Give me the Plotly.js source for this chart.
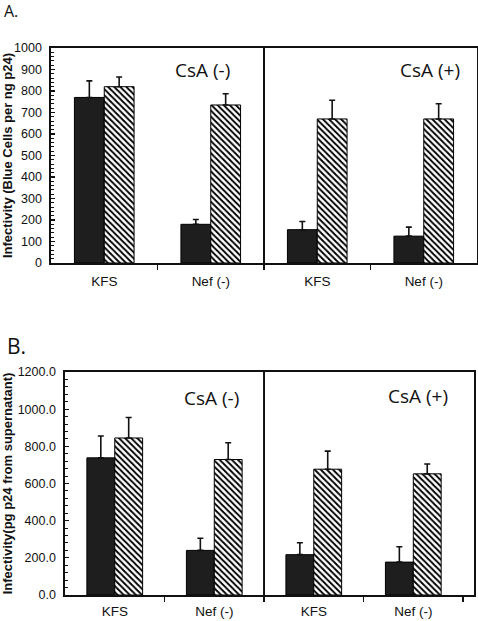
<!DOCTYPE html>
<html>
<head>
<meta charset="utf-8">
<script src="https://cdn.plot.ly/plotly-3.0.1.min.js"></script>
<style>html,body{margin:0;padding:0;background:#fff;}#chart{width:478px;height:621px;}</style>
</head>
<body>
<div id="chart"></div>
<script>
// ---- data ----
const categories = ['KFS', 'Nef (-)', 'KFS', 'Nef (-)'];
const conditions = ['CsA (-)', 'CsA (+)'];
const panelLabels = ['A.', 'B.'];

// Panel A: Infectivity (Blue Cells per ng p24)
const aSolid    = [770, 180, 155, 125];
const aSolidErr = [77, 22, 38, 42];
const aHatch    = [820, 735, 670, 670];
const aHatchErr = [45, 52, 87, 71];

// Panel B: Infectivity (pg p24 from supernatant)
const bSolid    = [738, 240, 217, 177];
const bSolidErr = [118, 65, 64, 83];
const bHatch    = [845, 729, 677, 652];
const bHatchErr = [110, 90, 97, 53];

const aTicks = [0, 100, 200, 300, 400, 500, 600, 700, 800, 900, 1000];
const bTicks = [0, 200, 400, 600, 800, 1000, 1200];

// ---- build ----
const xs = categories.map((c, i) => i);
const W = 478, H = 621;
const tickFont = {family: 'Liberation Sans, Arial, sans-serif', size: 12.5, color: '#111'};
const catFont = {family: 'Liberation Sans, Arial, sans-serif', size: 13.5, color: '#111'};
const titleFont = {family: 'Liberation Sans, Arial, sans-serif', size: 13, color: '#111', weight: 'bold'};
const condFont = {family: 'Open Sans, Noto Sans, sans-serif', size: 19, color: '#111'};

function solidTrace(y, err, xa, ya) {
  return {
    type: 'bar', x: xs, y: y, xaxis: xa, yaxis: ya,
    marker: {color: '#1e1e1e', line: {color: '#000', width: 1}},
    error_y: {type: 'data', array: err, arrayminus: [], symmetric: false, color: '#111', thickness: 1.6, width: 3},
    showlegend: false, hoverinfo: 'skip'
  };
}
function hatchTrace(y, err, xa, ya) {
  return {
    type: 'bar', x: xs, y: y, xaxis: xa, yaxis: ya,
    marker: {color: '#fff', line: {color: '#000', width: 1},
             pattern: {shape: '\\', fgcolor: '#000', bgcolor: '#fff', size: 4.3, solidity: 0.45}},
    error_y: {type: 'data', array: err, arrayminus: [], symmetric: false, color: '#111', thickness: 1.6, width: 3},
    showlegend: false, hoverinfo: 'skip'
  };
}

const data = [
  solidTrace(aSolid, aSolidErr, 'x', 'y'),
  hatchTrace(aHatch, aHatchErr, 'x', 'y'),
  solidTrace(bSolid, bSolidErr, 'x2', 'y2'),
  hatchTrace(bHatch, bHatchErr, 'x2', 'y2')
];

function xAxis(domain, range, anchor, bounds, standoff) {
  return {
    domain: domain, range: range, anchor: anchor,
    tickvals: xs, ticktext: categories, ticks: '', ticklen: 0,
    tickfont: catFont, ticklabelstandoff: standoff,
    showline: true, linecolor: '#111', linewidth: 1.6, mirror: true,
    showgrid: false, zeroline: false, fixedrange: true,
    minor: {tickvals: bounds, ticks: 'outside', ticklen: 5, tickcolor: '#111', tickwidth: 1.3, showgrid: false}
  };
}
function yAxis(domain, range, anchor, tickvals, ticktext, minorStep, title) {
  return {
    domain: domain, range: range, anchor: anchor,
    tickvals: tickvals, ticktext: ticktext, ticks: 'inside', ticklen: 4, tickwidth: 1.2, tickcolor: '#111',
    tickfont: tickFont, ticklabelstandoff: 5,
    minor: {dtick: minorStep, ticks: 'inside', ticklen: 3, tickwidth: 1, tickcolor: '#111', showgrid: false},
    showline: true, linecolor: '#111', linewidth: 1.6, mirror: true,
    showgrid: false, zeroline: false, fixedrange: true,
    title: {text: title, font: titleFont, standoff: 2}
  };
}

const layout = {
  width: W, height: H,
  margin: {l: 0, r: 0, t: 0, b: 0},
  paper_bgcolor: '#fff', plot_bgcolor: '#fff',
  barmode: 'group', bargap: 0.44, bargroupgap: 0,
  xaxis: xAxis([51 / W, 477 / W], [-0.5, 3.5], 'y', [0.5, 1.5, 2.5], 5),
  yaxis: yAxis([(H - 263) / H, (H - 48) / H], [0, 1000], 'x', aTicks, aTicks.map(String), 20,
               'Infectivity (Blue Cells per ng p24)'),
  xaxis2: xAxis([65 / W, 474 / W], [-0.5, 3.61], 'y2', [0.5, 1.5, 2.5, 3.5], 3),
  yaxis2: yAxis([(H - 595) / H, (H - 372) / H], [0, 1200], 'x2', bTicks, bTicks.map(v => v.toFixed(1)), 40,
                'Infectivity(pg p24 from supernatant)'),
  shapes: [
    {type: 'line', xref: 'x', yref: 'y domain', x0: 1.5, x1: 1.5, y0: 0, y1: 1, line: {color: '#111', width: 2}},
    {type: 'line', xref: 'x2', yref: 'y2 domain', x0: 1.5, x1: 1.5, y0: 0, y1: 1, line: {color: '#111', width: 2}}
  ],
  annotations: [
    {xref: 'x', yref: 'y', x: 0.92, y: 898, text: conditions[0], showarrow: false, font: condFont},
    {xref: 'x', yref: 'y', x: 3.06, y: 898, text: conditions[1], showarrow: false, font: condFont},
    {xref: 'x2', yref: 'y2', x: 0.97, y: 1058, text: conditions[0], showarrow: false, font: condFont},
    {xref: 'x2', yref: 'y2', x: 3.05, y: 1069, text: conditions[1], showarrow: false, font: condFont},
    {xref: 'paper', yref: 'paper', x: 2 / W, y: 1 - 11 / H, xanchor: 'left', yanchor: 'middle',
     text: panelLabels[0], showarrow: false, font: {family: 'Open Sans, Noto Sans, sans-serif', size: 16, color: '#111'}},
    {xref: 'paper', yref: 'paper', x: 5 / W, y: 1 - 346 / H, xanchor: 'left', yanchor: 'middle',
     text: panelLabels[1], showarrow: false, font: {family: 'Open Sans, Noto Sans, sans-serif', size: 21, color: '#111'}}
  ]
};

Plotly.newPlot('chart', data, layout, {displayModeBar: false, staticPlot: true});
</script>
</body>
</html>
